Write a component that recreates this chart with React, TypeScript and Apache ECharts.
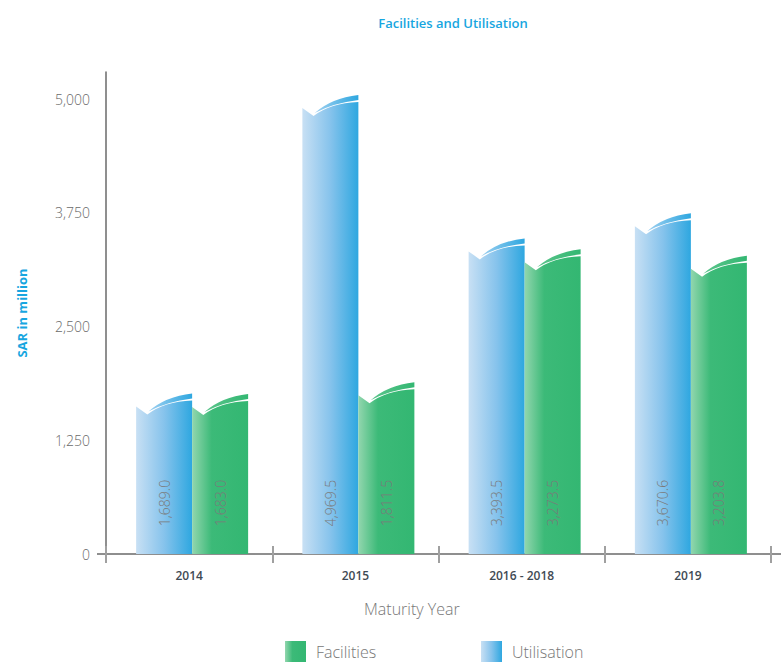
import React, { useEffect, useRef } from "react";
import * as echarts from "echarts";

const categories = ["2014", "2015", "2016 - 2018", "2019"];
const utilisation = [1689.0, 4969.5, 3393.5, 3670.6];
const facilities = [1683.0, 1811.5, 3273.5, 3203.8];
const yTickValues = [0, 1250, 2500, 3750, 5000];

const FONT = "'Open Sans', Lato, sans-serif";

const fmt = (v: number) =>
  v.toLocaleString("en-US", { minimumFractionDigits: 1, maximumFractionDigits: 1 });

const blueBody = () =>
  new echarts.graphic.LinearGradient(0, 0, 1, 0, [
    { offset: 0, color: "#c8e0f4" },
    { offset: 0.5, color: "#86c3ec" },
    { offset: 1, color: "#2ea7e0" },
  ]);
const blueStripe = () =>
  new echarts.graphic.LinearGradient(0, 0, 1, 0, [
    { offset: 0, color: "#9fd0f0" },
    { offset: 1, color: "#2ea7e0" },
  ]);
const greenBody = () =>
  new echarts.graphic.LinearGradient(0, 0, 1, 0, [
    { offset: 0, color: "#92d6ae" },
    { offset: 0.35, color: "#3cba78" },
    { offset: 1, color: "#33b772" },
  ]);
const greenStripe = () =>
  new echarts.graphic.LinearGradient(0, 0, 1, 0, [
    { offset: 0, color: "#5cc58c" },
    { offset: 1, color: "#33b772" },
  ]);

const makeRender = (side: number, body: () => any, stripe: () => any) =>
  (params: any, api: any) => {
    const idx = api.value(0);
    const val = api.value(1);
    const top = api.coord([idx, val]);
    const base = api.coord([idx, 0]);
    const w = 56;
    const cx = top[0] + 3;
    const x0 = side < 0 ? cx - w : cx;
    const x1 = x0 + w;
    const yT = top[1];
    const bot = base[1];
    const bodyPath =
      `M${x0},${bot} L${x0},${yT + 6} L${x0 + 0.2 * w},${yT + 14} ` +
      `Q${x0 + 0.5 * w},${yT + 1} ${x1},${yT} L${x1},${bot} Z`;
    const stripePath =
      `M${x0 + 0.22 * w},${yT + 11} Q${x0 + 0.52 * w},${yT - 4} ${x1},${yT - 7} ` +
      `L${x1},${yT - 2} Q${x0 + 0.55 * w},${yT + 1} ${x0 + 0.22 * w},${yT + 11} Z`;
    return {
      type: "group",
      children: [
        { type: "path", shape: { pathData: bodyPath }, style: { fill: body() } },
        { type: "path", shape: { pathData: stripePath }, style: { fill: stripe() } },
        {
          type: "text",
          x: x0 + w / 2,
          y: bot - 51,
          rotation: Math.PI / 2,
          style: {
            text: fmt(val),
            fill: "#7a7a7a",
            font: `300 14px ${FONT}`,
            align: "center",
            verticalAlign: "middle",
          },
        },
      ],
    };
  };

export default function App() {
  const ref = useRef<HTMLDivElement>(null);
  useEffect(() => {
    if (!ref.current) return;
    const chart = echarts.init(ref.current, null, { renderer: "svg" });
    const legendText = { color: "#777", fontSize: 16, fontWeight: 300, fontFamily: FONT, padding: [0, 0, 0, 5] };
    const option: any = {
      animation: false,
      title: {
        text: "Facilities and Utilisation",
        left: 448,
        top: 11,
        textAlign: "center",
        textStyle: { color: "#17a6e0", fontSize: 13, fontWeight: 600, fontFamily: FONT },
      },
      grid: { left: 106, right: 10, top: 72, bottom: 108 },
      legend: [
        {
          data: [{ name: "Facilities", itemStyle: { color: greenBody() } }],
          left: 280,
          top: 636,
          icon: "rect",
          itemWidth: 21,
          itemHeight: 21,
          textStyle: legendText,
        },
        {
          data: [{ name: "Utilisation", itemStyle: { color: blueBody() } }],
          left: 476,
          top: 636,
          icon: "rect",
          itemWidth: 21,
          itemHeight: 21,
          textStyle: legendText,
        },
      ],
      xAxis: [
        {
          type: "category",
          data: categories,
          position: "bottom",
          axisLine: { show: true, lineStyle: { color: "#6a6a6a", width: 1.5 } },
          axisTick: { show: true, inside: true, length: 8, lineStyle: { color: "#a0a0a0", width: 2 } },
          axisLabel: { color: "#3f4a54", fontSize: 12, fontWeight: 600, fontFamily: FONT, margin: 15 },
        },
        {
          type: "category",
          data: categories,
          position: "bottom",
          gridIndex: 0,
          axisLine: { show: false },
          axisTick: { show: true, inside: false, length: 9, lineStyle: { color: "#a0a0a0", width: 2 } },
          axisLabel: { show: false },
        },
      ],
      yAxis: {
        type: "value",
        min: 0,
        max: 5300,
        interval: 1250,
        name: "SAR in million",
        nameLocation: "middle",
        nameRotate: 90,
        nameGap: 78,
        nameTextStyle: { color: "#17a6e0", fontSize: 13, fontWeight: 700, fontFamily: FONT },
        axisLine: { show: true, lineStyle: { color: "#6a6a6a", width: 1.5 } },
        axisTick: { show: false },
        splitLine: { show: false },
        axisLabel: {
          color: "#6a6a6a",
          fontSize: 14,
          fontWeight: 300,
          fontFamily: FONT,
          margin: 16,
          formatter: (v: number) => (yTickValues.includes(v) ? v.toLocaleString("en-US") : ""),
        },
      },
      graphic: [
        {
          type: "line",
          shape: { x1: 97, y1: 554, x2: 106, y2: 554 },
          style: { stroke: "#6a6a6a", lineWidth: 1.5 },
        },
        {
          type: "line",
          shape: { x1: 771, y1: 554, x2: 781, y2: 554 },
          style: { stroke: "#6a6a6a", lineWidth: 1.5 },
        },
        {
          type: "text",
          left: 364,
          top: 601,
          style: { text: "Maturity Year", fill: "#777", font: `300 16px ${FONT}` },
        },
      ],
      series: [
        {
          name: "Utilisation",
          type: "custom",
          xAxisIndex: 0,
          itemStyle: { color: blueBody() },
          renderItem: makeRender(-1, blueBody, blueStripe),
          encode: { x: 0, y: 1 },
          data: utilisation.map((v, i) => [i, v]),
        },
        {
          name: "Facilities",
          type: "custom",
          xAxisIndex: 0,
          itemStyle: { color: greenBody() },
          renderItem: makeRender(1, greenBody, greenStripe),
          encode: { x: 0, y: 1 },
          data: facilities.map((v, i) => [i, v]),
        },
      ],
    };
    chart.setOption(option);
    return () => chart.dispose();
  }, []);
  return (
    <div
      ref={ref}
      style={{ position: "fixed", left: 0, top: 0, width: 781, height: 662, background: "#fff" }}
    />
  );
}
